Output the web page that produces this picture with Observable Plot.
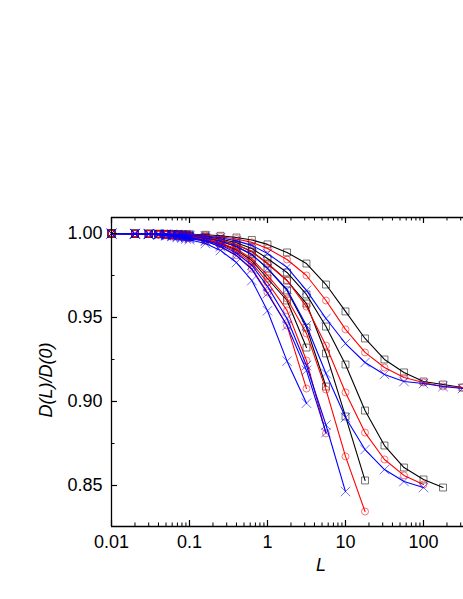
<!DOCTYPE html>
<html><head><meta charset="utf-8">
<script src="https://cdn.jsdelivr.net/npm/d3@7"></script>
<script src="https://cdn.jsdelivr.net/npm/@observablehq/plot@0.6"></script>
<style>body{margin:0;background:#fff} #chart svg{display:block}</style>
</head><body><div id="chart"></div>
<script>
// x grid (L)
const L = [0.01,0.02,0.03,0.04,0.05,0.06,0.07,0.08,0.09,0.1,0.16,0.25,0.4,0.63,1,1.78,3.16,5.62,10,17.8,31.6,56.2,100,178,316];
const _ = null;
// black (squares)
const A_black = [1.0000,1.0000,0.9999,0.9999,0.9998,0.9997,0.9997,0.9996,0.9995,0.9995,0.9992,0.9986,0.9976,0.9961,0.9935,0.9887,0.9821,0.9696,0.9536,0.9375,0.9250,0.9173,0.9119,0.9101,0.9083];
const B_black = [1.0000,0.9999,0.9998,0.9997,0.9996,0.9994,0.9993,0.9991,0.9990,0.9988,0.9981,0.9967,0.9945,0.9911,0.9851,0.9768,0.9637,0.9446,0.9220,0.8946,0.8738,0.8607,0.8536,0.8488,_];
const C_black = [1.0000,0.9999,0.9998,0.9996,0.9995,0.9993,0.9991,0.9989,0.9987,0.9986,0.9977,0.9960,0.9933,0.9892,0.9821,0.9720,0.9583,0.9286,0.8911,0.8530,_,_,_,_,_];
const D_black = [1.0000,0.9999,0.9998,0.9996,0.9994,0.9992,0.9990,0.9988,0.9985,0.9983,0.9973,0.9954,0.9923,0.9875,0.9792,0.9661,0.9440,0.9089,_,_,_,_,_,_,_];
const E_black = [0.9999,0.9998,0.9997,0.9995,0.9992,0.9989,0.9987,0.9984,0.9981,0.9979,0.9965,0.9941,0.9901,0.9839,0.9732,0.9601,0.9321,_,_,_,_,_,_,_,_];
// red (circles)
const A_red = [1.0000,0.9999,0.9999,0.9998,0.9997,0.9996,0.9996,0.9995,0.9994,0.9993,0.9988,0.9980,0.9967,0.9947,0.9911,0.9845,0.9750,0.9601,0.9429,0.9292,0.9202,0.9143,0.9113,0.9089,0.9083];
const B_red = [1.0000,0.9999,0.9998,0.9996,0.9995,0.9993,0.9991,0.9989,0.9987,0.9986,0.9977,0.9961,0.9934,0.9893,0.9821,0.9720,0.9565,0.9333,0.9054,0.8815,0.8655,0.8560,0.8506,_,_];
const C_red = [0.9999,0.9998,0.9997,0.9995,0.9993,0.9990,0.9988,0.9985,0.9982,0.9980,0.9967,0.9945,0.9907,0.9850,0.9750,0.9613,0.9405,0.9071,0.8673,0.8345,_,_,_,_,_];
const D_red = [0.9999,0.9998,0.9996,0.9994,0.9991,0.9988,0.9985,0.9982,0.9980,0.9977,0.9962,0.9936,0.9892,0.9825,0.9708,0.9542,0.9244,0.8810,_,_,_,_,_,_,_];
const E_red = [0.9999,0.9998,0.9996,0.9993,0.9990,0.9986,0.9983,0.9979,0.9976,0.9972,0.9955,0.9923,0.9870,0.9790,0.9649,0.9452,0.9077,_,_,_,_,_,_,_,_];
// blue (crosses)
const A_blue = [1.0000,0.9999,0.9999,0.9998,0.9996,0.9995,0.9994,0.9993,0.9992,0.9990,0.9985,0.9974,0.9956,0.9929,0.9881,0.9798,0.9661,0.9494,0.9345,0.9232,0.9161,0.9119,0.9107,0.9089,0.9077];
const B_blue = [1.0000,0.9999,0.9998,0.9996,0.9994,0.9992,0.9990,0.9988,0.9985,0.9983,0.9973,0.9954,0.9923,0.9875,0.9792,0.9667,0.9452,0.9167,0.8905,0.8714,0.8595,0.8524,0.8488,_,_];
const C_blue = [0.9999,0.9998,0.9996,0.9994,0.9991,0.9987,0.9984,0.9981,0.9978,0.9975,0.9959,0.9931,0.9883,0.9811,0.9685,0.9494,0.9214,0.8860,0.8464,_,_,_,_,_,_];
const D_blue = [0.9999,0.9998,0.9996,0.9993,0.9989,0.9986,0.9982,0.9979,0.9975,0.9971,0.9954,0.9921,0.9868,0.9786,0.9643,0.9452,0.9185,0.8815,_,_,_,_,_,_,_];
const E_blue = [0.9999,0.9997,0.9994,0.9991,0.9986,0.9982,0.9977,0.9972,0.9968,0.9963,0.9940,0.9899,0.9827,0.9720,0.9540,0.9240,0.8990,_,_,_,_,_,_,_,_];

// axis ticks
const majorX = [0.01,0.1,1,10,100];
const minorX = [0.02,0.03,0.04,0.05,0.06,0.07,0.08,0.09,0.2,0.3,0.4,0.5,0.6,0.7,0.8,0.9,2,3,4,5,6,7,8,9,20,30,40,50,60,70,80,90,200,300];
const majorY = [0.85,0.90,0.95,1.00];
const minorY = [0.875,0.925,0.975];

const groups = [
  {color:"#000000", symbol:"square", r:3.9, series:{A_black,B_black,C_black,D_black,E_black}},
  {color:"#ff0000", symbol:"circle", r:3.5, series:{A_red,B_red,C_red,D_red,E_red}},
  {color:"#0000ff", symbol:"times", r:4.4, series:{A_blue,B_blue,C_blue,D_blue,E_blue}}
];

const W = 463, H = 599, mL = 111, mR = 0, mT = 217, mB = 73;
const pw = W - mL - mR, ph = H - mT - mB;
const font = "'Liberation Sans', Arial, sans-serif";

const marks = [];
for (const g of groups) {
  const rows = [];
  for (const [name, vals] of Object.entries(g.series)) {
    vals.forEach((v, i) => { if (v != null) rows.push({L: L[i], v, s: name}); });
  }
  marks.push(Plot.line(rows, {x:"L", y:"v", z:"s", stroke:g.color, strokeWidth:1.1}));
  marks.push(Plot.dot(rows, {x:"L", y:"v", symbol:g.symbol, r:g.r, stroke:g.color, strokeOpacity:0.55, fill:"none", strokeWidth:1}));
}

const xDom = [0.01, 325.8], yDom = [0.8256, 1.0095];

const chart = Plot.plot({
  width: W, height: H,
  marginLeft: mL, marginRight: mR, marginTop: mT, marginBottom: mB,
  style: {fontFamily: font, fontSize: "18px", background: "#fff", overflow: "hidden"},
  x: {type: "log", domain: xDom},
  y: {domain: yDom},
  marks: [
    ...marks,
    Plot.ruleX([xDom[0]], {stroke:"#000", strokeWidth:1.3}),
    Plot.ruleY([yDom[0]], {stroke:"#000", strokeWidth:1.3}),
    Plot.ruleY([yDom[1]], {stroke:"#000", strokeWidth:1.3}),
    Plot.tickX(majorX, {x: d => d, insetTop: ph - 6, stroke:"#000", strokeWidth:1.2}),
    Plot.tickX(minorX, {x: d => d, insetTop: ph - 3.5, stroke:"#000", strokeWidth:1}),
    Plot.tickX(majorX, {x: d => d, insetBottom: ph - 6, stroke:"#000", strokeWidth:1.2}),
    Plot.tickX(minorX, {x: d => d, insetBottom: ph - 3.5, stroke:"#000", strokeWidth:1}),
    Plot.tickY(majorY, {y: d => d, insetRight: pw - 6, stroke:"#000", strokeWidth:1.2}),
    Plot.tickY(minorY, {y: d => d, insetRight: pw - 3.5, stroke:"#000", strokeWidth:1}),
    Plot.axisX({ticks: majorX, tickSize: 0, tickPadding: 9, tickFormat: d => String(d), label: null, fontSize: 18}),
    Plot.axisY({ticks: majorY, tickSize: 0, tickPadding: 9, tickFormat: d3.format(".2f"), label: null, fontSize: 18})
  ]
});

const svg = d3.select(chart);
svg.append("text")
  .attr("transform", "translate(52,380) rotate(-90)")
  .attr("text-anchor", "middle")
  .attr("font-family", font).attr("font-size", 18).attr("font-style", "italic")
  .text("D(L)/D(0)");
svg.append("text")
  .attr("x", 321).attr("y", 571)
  .attr("text-anchor", "middle")
  .attr("font-family", font).attr("font-size", 18).attr("font-style", "italic")
  .text("L");

document.getElementById("chart").appendChild(chart);
</script></body></html>
